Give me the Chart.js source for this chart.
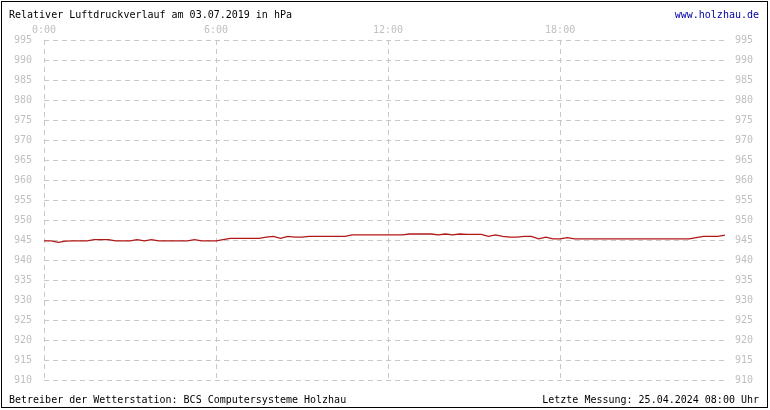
<!DOCTYPE html>
<html>
<head>
<meta charset="utf-8">
<script src="https://cdn.jsdelivr.net/npm/chart.js@4/dist/chart.umd.min.js"></script>
<style>
html,body{margin:0;padding:0;background:#fff;}
canvas{display:block;}
</style>
</head>
<body>
<canvas id="c" width="770" height="410"></canvas>
<script>
// Data: relative air pressure (hPa), every 15 minutes from 0:00 to 23:45
const hours = [];
for (let i = 0; i < 96; i++) hours.push(i * 0.25);
const pressure = [
  944.8, 944.8, 944.4, 944.7, 944.8, 944.8, 944.8, 945.1, 945.1, 945.1, 944.8, 944.8,
  944.8, 945.1, 944.8, 945.1, 944.8, 944.8, 944.8, 944.8, 944.8, 945.1, 944.8, 944.8,
  944.8, 945.1, 945.4, 945.4, 945.4, 945.4, 945.4, 945.7, 945.9, 945.4, 945.9, 945.7,
  945.7, 945.9, 945.9, 945.9, 945.9, 945.9, 945.9, 946.3, 946.3, 946.3, 946.3, 946.3,
  946.3, 946.3, 946.3, 946.5, 946.5, 946.5, 946.5, 946.3, 946.5, 946.3, 946.5, 946.4,
  946.4, 946.4, 945.9, 946.3, 945.9, 945.7, 945.7, 945.9, 945.9, 945.3, 945.7, 945.3,
  945.3, 945.6, 945.3, 945.3, 945.3, 945.3, 945.3, 945.3, 945.3, 945.3, 945.3, 945.3,
  945.3, 945.3, 945.3, 945.3, 945.3, 945.3, 945.3, 945.6, 945.9, 945.9, 945.9, 946.2
];
const xTickHours = [0, 6, 12, 18];
const xTickLabels = ['0:00', '6:00', '12:00', '18:00'];
const yTicks = [910, 915, 920, 925, 930, 935, 940, 945, 950, 955, 960, 965, 970, 975, 980, 985, 990, 995];
const titleText = 'Relativer Luftdruckverlauf am 03.07.2019 in hPa';
const siteText = 'www.holzhau.de';
const operatorText = 'Betreiber der Wetterstation: BCS Computersysteme Holzhau';
const lastText = 'Letzte Messung: 25.04.2024 08:00 Uhr';

const FONT = '"DejaVu Sans Mono", monospace';
const gridColor = '#c8c8c8';
const tickColor = '#c0c0c0';

const frame = {
  id: 'frame',
  afterDraw(chart) {
    const ctx = chart.ctx;
    ctx.save();
    ctx.strokeStyle = '#000';
    ctx.lineWidth = 1;
    ctx.strokeRect(1.5, 1.5, 766, 406);
    ctx.font = '10px ' + FONT;
    ctx.textBaseline = 'alphabetic';
    ctx.fillStyle = '#000';
    ctx.textAlign = 'left';
    ctx.fillText(titleText, 9, 18);
    ctx.fillText(operatorText, 9, 403);
    ctx.textAlign = 'right';
    ctx.fillText(lastText, 759, 403);
    ctx.fillStyle = '#0000a8';
    ctx.fillText(siteText, 759, 18);
    ctx.restore();
  }
};

new Chart(document.getElementById('c'), {
  type: 'line',
  data: {
    datasets: [{
      data: hours.map((h, i) => ({x: h, y: pressure[i]})),
      borderColor: '#b01818',
      borderWidth: 1.3,
      pointRadius: 0,
      tension: 0,
      fill: false,
      yAxisID: 'y'
    }]
  },
  options: {
    responsive: false,
    animation: false,
    devicePixelRatio: 1,
    layout: {padding: {left: 0, right: 0, top: 0, bottom: 30}},
    plugins: {legend: {display: false}, tooltip: {enabled: false}},
    scales: {
      x: {
        type: 'linear',
        position: 'top',
        min: 0,
        max: 23.75,
        afterBuildTicks: s => { s.ticks = xTickHours.map(v => ({value: v})); },
        afterFit: s => { s.height = 40; },
        ticks: {
          color: tickColor,
          font: {family: FONT, size: 10},
          padding: 4,
          maxRotation: 0,
          callback: (v) => xTickLabels[xTickHours.indexOf(v)]
        },
        grid: {color: gridColor, drawTicks: false, tickLength: 0},
        border: {display: false, dash: [5, 4]}
      },
      y: {
        position: 'left',
        min: 910,
        max: 995,
        afterBuildTicks: s => { s.ticks = yTicks.map(v => ({value: v})); },
        afterFit: s => { s.width = 44; },
        ticks: {color: tickColor, font: {family: FONT, size: 10}, padding: 12},
        grid: {color: gridColor, drawTicks: false, tickLength: 0},
        border: {display: false, dash: [5, 4]}
      },
      y2: {
        position: 'right',
        min: 910,
        max: 995,
        afterBuildTicks: s => { s.ticks = yTicks.map(v => ({value: v})); },
        afterFit: s => { s.width = 45; },
        ticks: {color: tickColor, font: {family: FONT, size: 10}, padding: 10},
        grid: {display: false, drawTicks: false},
        border: {display: false}
      }
    }
  },
  plugins: [frame]
});
</script>
</body>
</html>
